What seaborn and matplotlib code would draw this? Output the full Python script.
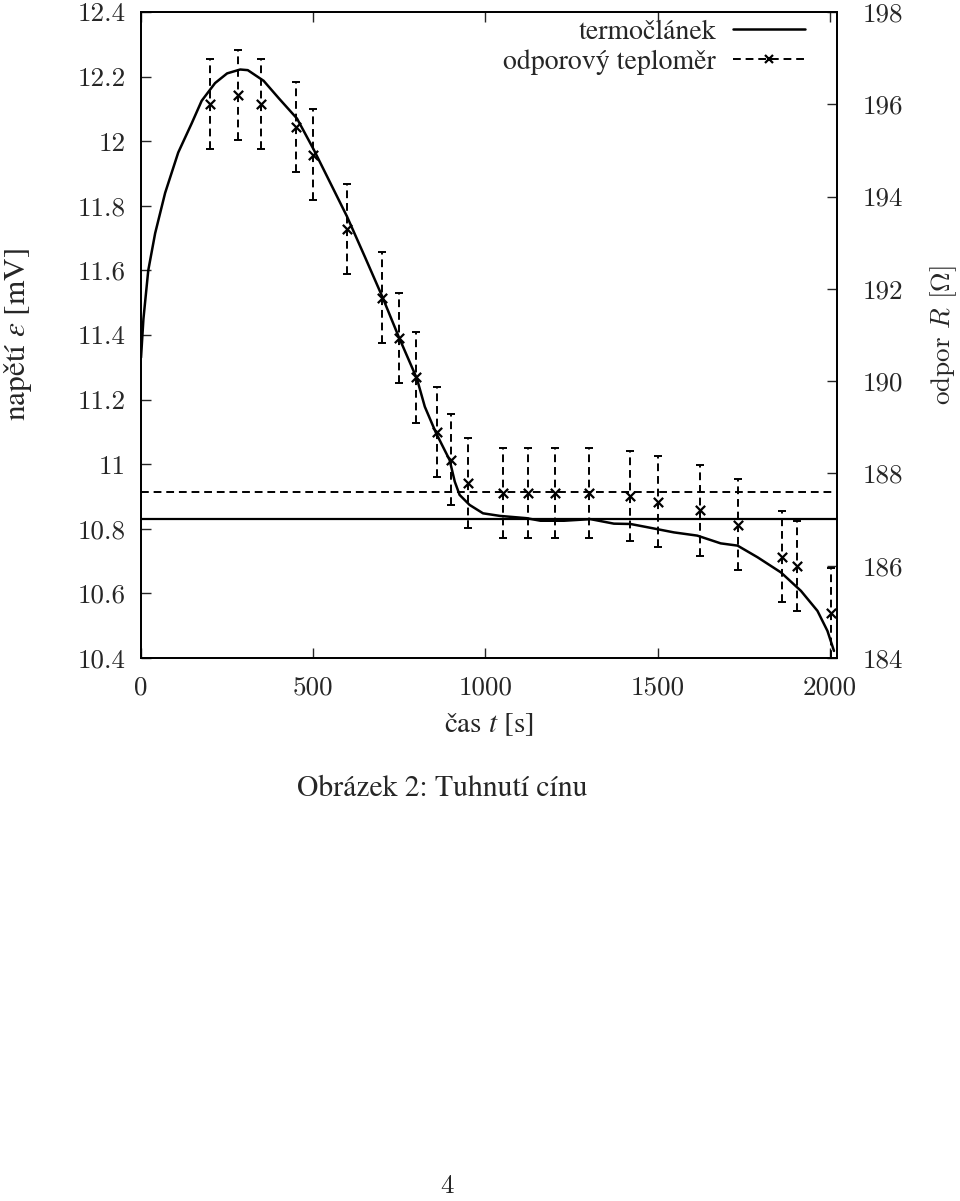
import matplotlib
matplotlib.use('Agg')
import matplotlib.pyplot as plt
from matplotlib.lines import Line2D
import seaborn as sns

# termoclanek - napeti [mV] v case [s]
time_s = [0, 7, 21, 41, 70, 108, 147, 176, 215, 250, 288, 310, 356, 400, 453,
          501, 550, 598, 650, 700, 748, 801, 824, 856, 896, 911, 925, 954, 993,
          1042, 1119, 1160, 1228, 1305, 1373, 1421, 1470, 1547, 1615, 1683,
          1732, 1790, 1858, 1916, 1964, 1993, 2012]
emf_mv = [11.33, 11.45, 11.60, 11.715, 11.84, 11.965, 12.055, 12.125, 12.18, 12.21,
          12.222, 12.22, 12.187, 12.133, 12.07, 11.975, 11.87, 11.767, 11.642,
          11.52, 11.395, 11.265, 11.178, 11.098, 11.013, 10.946, 10.905, 10.874,
          10.848, 10.840, 10.833, 10.825, 10.825, 10.83, 10.816, 10.815, 10.805,
          10.789, 10.779, 10.755, 10.748, 10.712, 10.665, 10.608, 10.546, 10.484,
          10.422]

# odporovy teplomer - odpor [Ohm]
res_time_s = [199, 281, 349, 449, 499, 599, 701, 749, 799, 859, 900, 950, 1050,
              1125, 1201, 1302, 1421, 1502, 1622, 1733, 1860, 1904, 2004]
res_ohm = [196.01, 196.20, 196.01, 195.51, 194.91, 193.30, 191.81, 190.93, 190.08,
           188.90, 188.30, 187.79, 187.58, 187.58, 187.58, 187.58, 187.51, 187.39,
           187.20, 186.89, 186.20, 186.00, 184.98]
res_err = 0.98

# prodlevy (teplota tuhnuti)
plateau_mv = 10.83
plateau_ohm = 187.59

x_ticks = [0, 500, 1000, 1500, 2000]
y_ticks_mv = [10.4, 10.6, 10.8, 11.0, 11.2, 11.4, 11.6, 11.8, 12.0, 12.2, 12.4]
y_ticks_ohm = [184, 186, 188, 190, 192, 194, 196, 198]

sns.set_style('ticks')
plt.rcParams['font.family'] = ['STIXGeneral', 'DejaVu Serif']
plt.rcParams['mathtext.fontset'] = 'stix'
plt.rcParams['axes.unicode_minus'] = False
plt.rcParams['axes.linewidth'] = 1.3

FS = 20
FS_TICK = 19.5
DASH = (4, 2.5)

fig = plt.figure(figsize=(9.6, 12.01), dpi=100)
ax = fig.add_axes([0.1469, 0.4521, 0.7247, 0.5379])
ax2 = ax.twinx()

sns.lineplot(x=time_s, y=emf_mv, ax=ax, color='black', linewidth=1.8)
ax.axhline(plateau_mv, color='black', linewidth=1.6)

eb = ax2.errorbar(res_time_s, res_ohm, yerr=res_err, fmt='none', ecolor='black',
                  elinewidth=1.4, capsize=3, capthick=1.4)
eb[2][0].set_linestyle((0, DASH))
sns.scatterplot(x=res_time_s, y=res_ohm, ax=ax2, marker='x', color='black',
                s=45, linewidth=1.6, zorder=5)
ax2.axhline(plateau_ohm, color='black', linewidth=1.4, linestyle=(0, DASH))

ax.set_xlim(0, 2020)
ax.set_ylim(10.4, 12.4)
ax2.set_ylim(184, 198)

ax.set_xticks(x_ticks, labels=[str(v) for v in x_ticks],
              fontfamily='cmr10', fontsize=FS_TICK)
ax.set_yticks(y_ticks_mv, labels=[f'{v:g}' for v in y_ticks_mv],
              fontfamily='cmr10', fontsize=FS_TICK)
ax2.set_yticks(y_ticks_ohm, labels=[str(v) for v in y_ticks_ohm],
               fontfamily='cmr10', fontsize=FS_TICK)

ax.tick_params(axis='x', direction='in', length=7, width=1, top=True, pad=13)
ax.tick_params(axis='y', direction='in', length=7, width=1, right=False, pad=11)
ax2.tick_params(axis='y', direction='in', length=7, width=1, pad=19)
for a in (ax, ax2):
    for s in a.spines.values():
        s.set_color('black')
        s.set_linewidth(1.3)

ax.set_xlabel('čas $t$ [s]', fontsize=21)
ax.xaxis.label.set_va('center')
ax.xaxis.set_label_coords(0.5, -0.103)

ax.set_ylabel('napětí $\\varepsilon$ [mV]', fontsize=22.5)
ax.yaxis.label.set(va='center', rotation_mode='default')
ax.yaxis.set_label_coords(-0.177, 0.5)

ax2.set_ylabel('odpor $R$ [$\\Omega$]', fontsize=19.5, rotation=90,
               fontfamily='cmr10', math_fontfamily='cm')
ax2.yaxis.label.set(va='center', rotation_mode='default')
ax2.yaxis.set_label_coords(1.153, 0.5)

handles = [Line2D([], [], color='black', linewidth=1.8),
           Line2D([], [], color='black', linewidth=1.4, linestyle=(0, DASH),
                  marker='x', markersize=6, markeredgewidth=1.6)]
ax2.legend(handles, ['termočlánek', 'odporový teploměr'], loc='upper right',
           bbox_to_anchor=(0.9545, 0.988), frameon=False, markerfirst=False,
           handlelength=2.6, handletextpad=0.6, borderaxespad=0, borderpad=0,
           labelspacing=0.15, fontsize=FS)

fig.text(0.461, 1 - 789 / 1201, 'Obrázek 2: Tuhnutí cínu', ha='center',
         va='center', fontsize=21.3)
fig.text(0.466, 1 - 1186 / 1201, '4', ha='center', va='center', fontsize=FS_TICK,
         fontfamily='cmr10')

fig.savefig('out.png', dpi=100)
